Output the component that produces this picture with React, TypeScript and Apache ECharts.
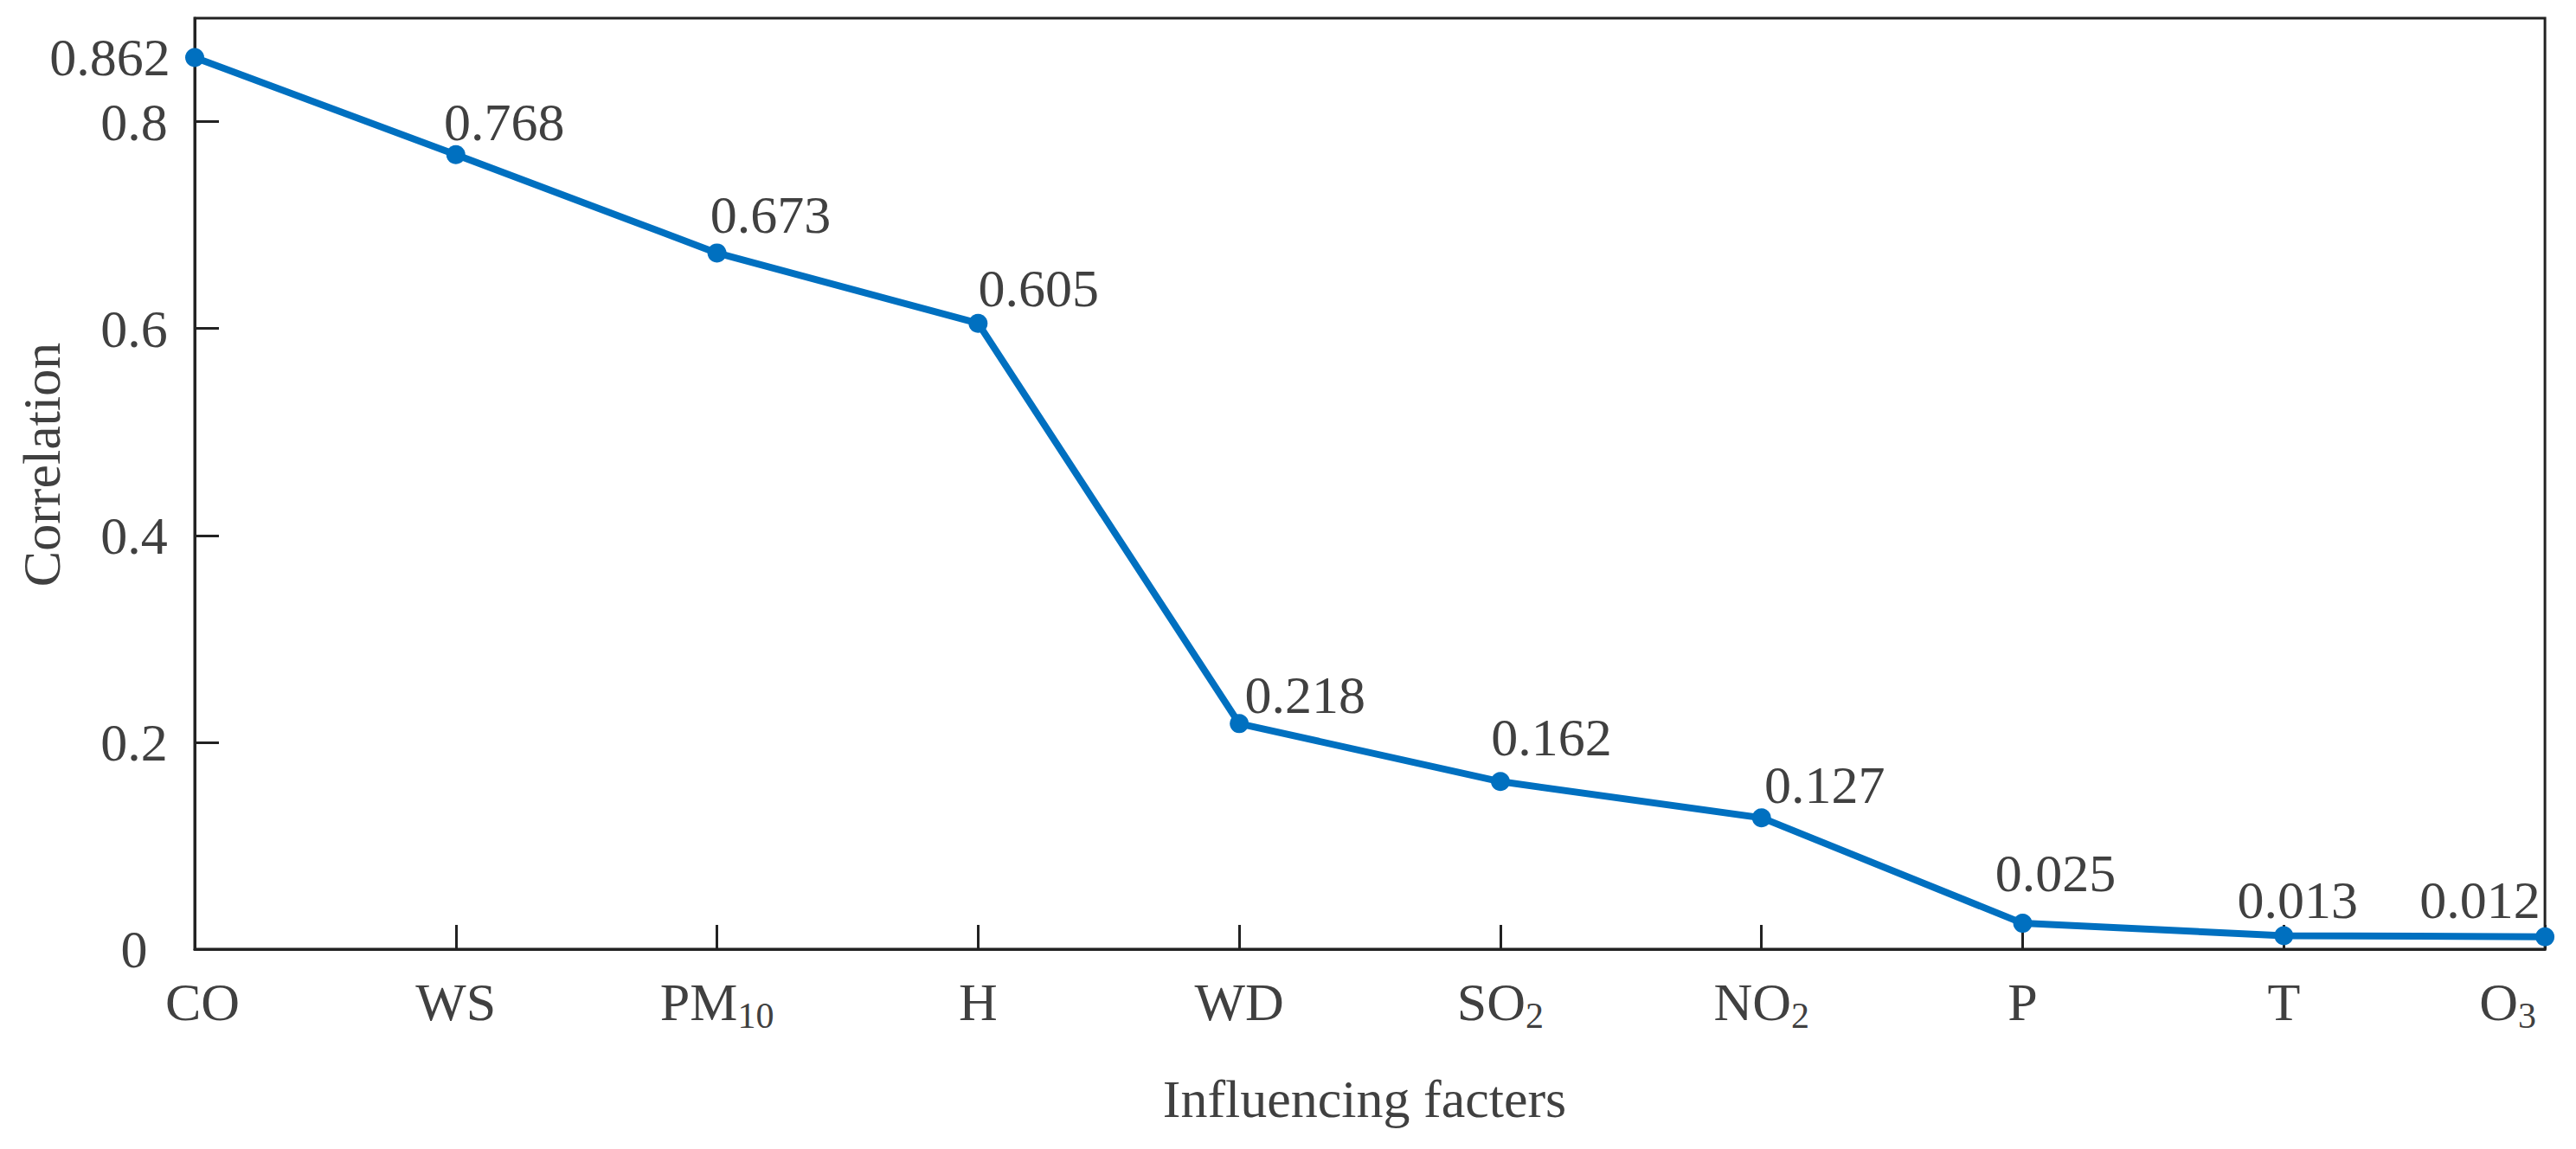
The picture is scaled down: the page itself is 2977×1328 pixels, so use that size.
import React, { useEffect, useRef } from "react";
import * as echarts from "echarts";

const categories = ["CO", "WS", "PM10", "H", "WD", "SO2", "NO2", "P", "T", "O3"];
const correlation = [0.862, 0.768, 0.673, 0.605, 0.218, 0.162, 0.127, 0.025, 0.013, 0.012];
const labelOffsets = [
  [-98, 0],
  [56, -38],
  [62, -44],
  [70, -41],
  [76, -33],
  [59, -51],
  [73, -38],
  [38, -58],
  [16, -41],
  [-75, -43],
];
const yMin = 0;
const yMax = 0.9;
const yInterval = 0.2;
const xTitle = "Influencing facters";
const yTitle = "Correlation";

const FONT = "'Liberation Serif', 'Times New Roman', serif";
const TEXT = "#404040";
const AXIS = "#222222";
const BLUE = "#0070C0";

export default function App() {
  const ref = useRef<HTMLDivElement>(null);
  useEffect(() => {
    if (!ref.current) return;
    const chart = echarts.init(ref.current, null, { renderer: "svg" });
    const fmtCat = (v: string, i: number) => {
      const m = /^([A-Za-z]+)(\d+)$/.exec(v);
      let s = m ? `{a|${m[1]}}{sub|${m[2]}}` : `{a|${v}}`;
      if (i === 0) s = `{padL|}` + s;
      if (i === categories.length - 1) s = s + `{padR|}`;
      return s;
    };
    chart.setOption({
      animation: false,
      backgroundColor: "#ffffff",
      grid: {
        left: 225,
        top: 21,
        right: 28,
        bottom: 231,
        show: true,
        borderColor: AXIS,
        borderWidth: 3,
        backgroundColor: "transparent",
      },
      xAxis: {
        type: "category",
        data: categories,
        boundaryGap: false,
        axisLine: { lineStyle: { color: AXIS, width: 3 } },
        axisTick: { inside: true, length: 28, lineStyle: { color: AXIS, width: 3 } },
        splitLine: { show: false },
        axisLabel: {
          margin: 30,
          interval: 0,
          formatter: fmtCat,
          rich: {
            a: { fontFamily: FONT, fontSize: 62, lineHeight: 62, color: TEXT },
            sub: {
              fontFamily: FONT,
              fontSize: 42,
              lineHeight: 62,
              padding: [32, 0, 0, 0],
              color: TEXT,
            },
            padL: { width: 18, height: 10 },
            padR: { width: 86, height: 10 },
          },
        },
      },
      yAxis: {
        type: "value",
        min: yMin,
        max: yMax,
        interval: yInterval,
        axisLine: { show: true, lineStyle: { color: AXIS, width: 3 } },
        axisTick: { show: true, inside: true, length: 28, lineStyle: { color: AXIS, width: 3 } },
        splitLine: { show: false },
        axisLabel: {
          showMaxLabel: false,
          align: "center",
          margin: 70,
          fontFamily: FONT,
          fontSize: 62,
          color: TEXT,
        },
      },
      series: [
        {
          type: "line",
          clip: false,
          data: correlation.map((v, i) => ({
            value: v,
            label: { offset: labelOffsets[i] },
          })),
          symbol: "circle",
          symbolSize: 22,
          lineStyle: { color: BLUE, width: 8 },
          itemStyle: { color: BLUE },
          label: {
            show: true,
            position: "inside",
            fontFamily: FONT,
            fontSize: 62,
            color: TEXT,
            formatter: (p: any) => p.value.toFixed(3),
          },
        },
      ],
      graphic: [
        {
          type: "text",
          x: 48,
          y: 537,
          rotation: Math.PI / 2,
          style: {
            text: yTitle,
            fontFamily: FONT,
            fontSize: 62,
            fill: TEXT,
            align: "center",
            verticalAlign: "middle",
          },
        },
        {
          type: "text",
          x: 1577,
          y: 1270,
          style: {
            text: xTitle,
            fontFamily: FONT,
            fontSize: 62,
            fill: TEXT,
            align: "center",
            verticalAlign: "middle",
          },
        },
      ],
    });
    return () => chart.dispose();
  }, []);
  return (
    <div
      ref={ref}
      style={{ position: "absolute", left: 0, top: 0, width: 2977, height: 1328, background: "#fff" }}
    />
  );
}
